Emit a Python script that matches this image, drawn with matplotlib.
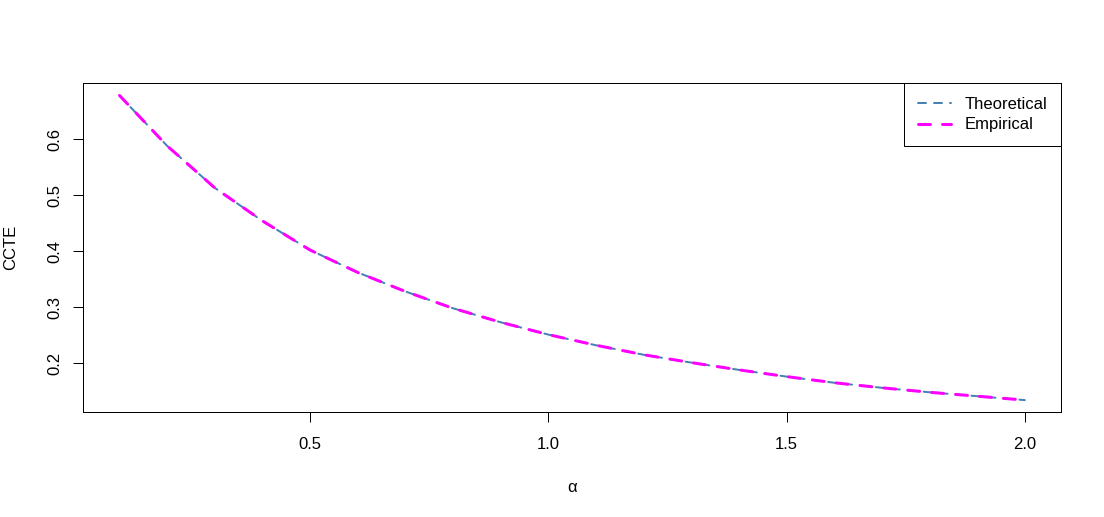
import matplotlib
matplotlib.use("Agg")
import matplotlib.pyplot as plt

# Data
alpha = [0.1, 0.2, 0.3, 0.4, 0.5, 0.6, 0.7, 0.8, 0.9, 1.0,
         1.1, 1.2, 1.3, 1.4, 1.5, 1.6, 1.7, 1.8, 1.9, 2.0]
theoretical = [0.678, 0.588, 0.513, 0.454, 0.402, 0.362, 0.328, 0.298, 0.273, 0.251,
               0.232, 0.215, 0.201, 0.188, 0.176, 0.165, 0.156, 0.148, 0.141, 0.134]
empirical = [0.678, 0.588, 0.513, 0.454, 0.402, 0.362, 0.328, 0.298, 0.273, 0.251,
             0.232, 0.215, 0.201, 0.188, 0.176, 0.165, 0.156, 0.148, 0.141, 0.134]
xticks = [0.5, 1.0, 1.5, 2.0]
yticks = [0.2, 0.3, 0.4, 0.5, 0.6]
series_labels = ["Theoretical", "Empirical"]

plt.rcParams['font.family'] = ['Liberation Sans', 'DejaVu Sans']

W, H = 1104, 517
fig = plt.figure(figsize=(W / 100, H / 100), dpi=100)
left, right, top, bottom = 83.3, 1061, 83.3, 412.3
ax = fig.add_axes([left / W, 1 - bottom / H, (right - left) / W, (bottom - top) / H])

px = 100 / 72.0
ax.plot(alpha, theoretical, color='#4682B4', lw=2 / px, linestyle=(0, (4, 4)),
        dash_capstyle='round', label=series_labels[0])
ax.plot(alpha, empirical, color='#FF00FF', lw=3 / px, linestyle=(0, (4, 4)),
        dash_capstyle='round', label=series_labels[1])

# R-style 4% axis expansion
allv = theoretical + empirical
xr = max(alpha) - min(alpha)
yr = max(allv) - min(allv)
ax.set_xlim(min(alpha) - 0.04 * xr, max(alpha) + 0.04 * xr)
ax.set_ylim(min(allv) - 0.04 * yr, max(allv) + 0.04 * yr)

ax.set_xticks(xticks)
ax.set_xticklabels([f"{v:.1f}" for v in xticks])
ax.set_yticks(yticks)
ax.set_yticklabels([f"{v:.1f}" for v in yticks])

FS = 12
ax.tick_params(axis='both', direction='out', length=10 / px, width=1 / px,
               labelsize=FS, color='black')
ax.tick_params(axis='x', pad=10.5)
ax.tick_params(axis='y', pad=8)
for lab in ax.get_yticklabels():
    lab.set_rotation(90)
    lab.set_va('center')
    lab.set_ha('right')

for sp in ax.spines.values():
    sp.set_linewidth(1 / px)
    sp.set_color('black')

ax.set_xlabel('α', fontsize=FS)
ax.set_ylabel('CCTE', fontsize=FS)
ax.xaxis.set_label_coords(0.5, (bottom - 488) / (bottom - top))
ax.xaxis.label.set_va('center')
ax.yaxis.set_label_coords((11 - left) / (right - left), 0.5)
ax.yaxis.label.set_va('center')

leg = ax.legend(loc='upper right', borderaxespad=0, fancybox=False, framealpha=1,
                edgecolor='black', fontsize=FS, handlelength=2.0, handletextpad=0.8,
                labelspacing=0.33, borderpad=0.82)
leg.get_frame().set_linewidth(1 / px)

fig.savefig('out.png', dpi=100, facecolor='white')
